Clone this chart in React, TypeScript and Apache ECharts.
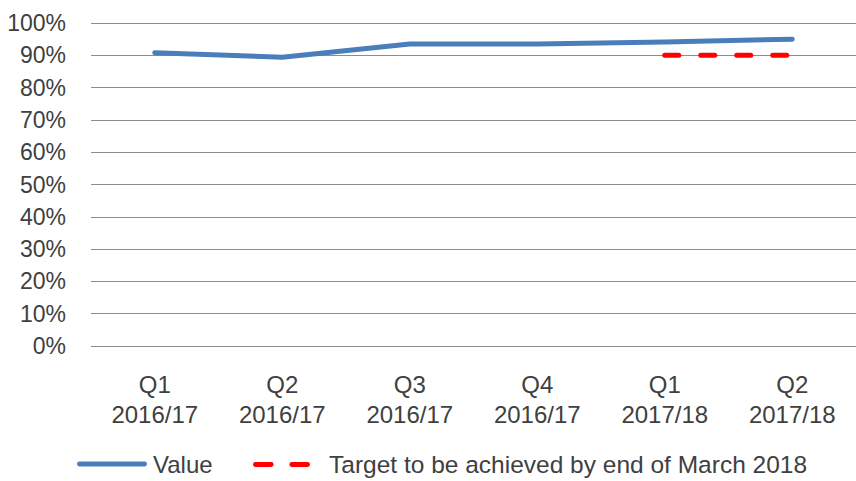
import React, { useEffect, useRef } from "react";
import * as echarts from "echarts";

const categories = ["Q1\n2016/17", "Q2\n2016/17", "Q3\n2016/17", "Q4\n2016/17", "Q1\n2017/18", "Q2\n2017/18"];
const valueSeries = [90.8, 89.4, 93.5, 93.5, 94.1, 95.0];
const targetSeries: (number | null)[] = [null, null, null, null, 90, 90];

const VALUE_NAME = "Value";
const TARGET_NAME = "Target to be achieved by end of March 2018";

export default function App() {
  const ref = useRef<HTMLDivElement>(null);
  useEffect(() => {
    if (!ref.current) return;
    const chart = echarts.init(ref.current, null, { renderer: "svg" });
    const font = "Liberation Sans";
    chart.setOption({
      animation: false,
      textStyle: { fontFamily: font },
      grid: { left: 91, top: 23, width: 768, height: 323, containLabel: false },
      legend: [
        {
          data: [{ name: VALUE_NAME, icon: "path://M2,0h66a2,2 0 0 1 0,5h-66a2,2 0 0 1 0,-5z" }],
          left: 77,
          top: 452,
          padding: 0,
          itemWidth: 70,
          itemHeight: 5,
          itemGap: 0,
          textStyle: { fontSize: 24, color: "#404040", fontFamily: font, padding: [0, 0, 0, 1] },
        },
        {
          data: [
            {
              name: TARGET_NAME,
              icon: "path://M2,0h16a2,2 0 0 1 0,5h-16a2,2 0 0 1 0,-5z M39,0h16a2,2 0 0 1 0,5h-16a2,2 0 0 1 0,-5z",
            },
          ],
          left: 253,
          top: 452,
          padding: 0,
          itemWidth: 57,
          itemHeight: 5,
          textStyle: { fontSize: 24.5, color: "#404040", fontFamily: font, padding: [0, 0, 0, 14] },
        },
      ],
      xAxis: {
        type: "category",
        data: categories,
        boundaryGap: true,
        axisLine: { show: false },
        axisTick: { show: false },
        axisLabel: { fontSize: 24, color: "#404040", margin: 23, lineHeight: 30, fontFamily: font },
        splitLine: { show: false },
      },
      yAxis: {
        type: "value",
        min: 0,
        max: 100,
        interval: 10,
        axisLine: { show: false },
        axisTick: { show: false },
        axisLabel: { fontSize: 23, color: "#404040", margin: 25, formatter: "{value}%", fontFamily: font },
        splitLine: { lineStyle: { color: "#8c8c8c", width: 1 } },
      },
      series: [
        {
          name: VALUE_NAME,
          type: "line",
          data: valueSeries,
          symbol: "none",
          lineStyle: { color: "#4a7ebb", width: 5, cap: "round", join: "round" },
          itemStyle: { color: "#4a7ebb" },
        },
        {
          name: TARGET_NAME,
          type: "line",
          data: targetSeries,
          symbol: "none",
          lineStyle: { color: "#ff0000", width: 5, type: [14, 22], cap: "round" },
          itemStyle: { color: "#ff0000" },
        },
      ],
    });
    return () => chart.dispose();
  }, []);
  return <div ref={ref} style={{ width: 856, height: 481, position: "absolute", left: 0, top: 0 }} />;
}
